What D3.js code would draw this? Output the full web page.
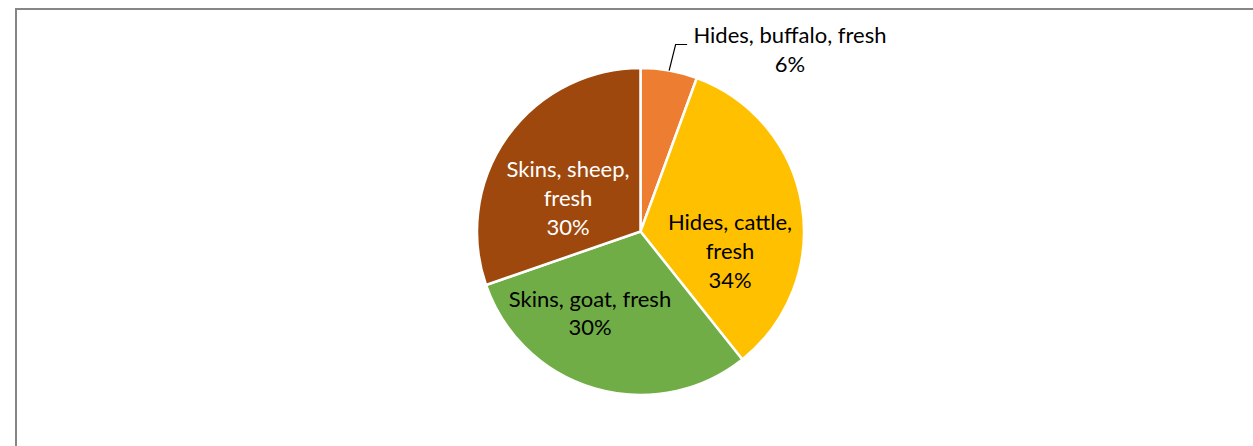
<!DOCTYPE html>
<html>
<head>
<meta charset="utf-8">
<script src="https://cdn.jsdelivr.net/npm/d3@7/dist/d3.min.js"></script>
<style>
  html, body { margin: 0; padding: 0; background: #fff; }
  svg { display: block; }
  text { font-family: Lato, "Liberation Sans", sans-serif; }
</style>
</head>
<body>
<svg id="chart" width="1253" height="446"></svg>
<script>
// Share of fresh hides and skins
const categories = ["Hides, buffalo, fresh", "Hides, cattle, fresh", "Skins, goat, fresh", "Skins, sheep, fresh"];
const shares = [5.6, 33.7, 30.4, 30.3];
const labelLines = [
  ["Hides, buffalo, fresh"],
  ["Hides, cattle,", "fresh"],
  ["Skins, goat, fresh"],
  ["Skins, sheep,", "fresh"]
];
const colors = ["#ED7D31", "#FFC000", "#70AD47", "#9E480E"];
const textColors = ["#000", "#000", "#000", "#fff"];

const W = 1253, H = 446;
const cx = 640.5, cy = 231.5, radius = 163.5;
const fontSize = 22, lineH = 28.7;

const svg = d3.select("#chart");

// chart frame
svg.append("rect")
  .attr("x", 16).attr("y", 9)
  .attr("width", W + 20).attr("height", H + 20)
  .attr("fill", "#fff")
  .attr("stroke", "#868686")
  .attr("stroke-width", 2);

const pie = d3.pie().sort(null).value(d => d);
const arcs = pie(shares);
const arc = d3.arc().innerRadius(0).outerRadius(radius);

const g = svg.append("g").attr("transform", `translate(${cx},${cy})`);

g.selectAll("path.slice")
  .data(arcs)
  .join("path")
  .attr("class", "slice")
  .attr("d", arc)
  .attr("fill", (d, i) => colors[i])
  .attr("stroke", "#fff")
  .attr("stroke-width", 2.5)
  .attr("stroke-linejoin", "round");

// label placement: polar position (degrees clockwise from 12 o'clock, distance from centre) of each label block's centre
const labelPolar = [null, [102.3, 91.6], [-148.2, 95.9], [-65.2, 79.9]];

arcs.forEach((d, i) => {
  const pct = Math.round(d.value) + "%";
  const lines = labelLines[i].concat([pct]);
  let x, y0;
  if (i === 0) {
    // outside label with leader line
    const a = (d.startAngle + d.endAngle) / 2;
    const p = [Math.sin(a) * radius, -Math.cos(a) * radius];
    const elbow = [p[0] + 6.5, p[1] - 26];
    g.append("path")
      .attr("d", d3.line()([p, elbow, [elbow[0] + 11.5, elbow[1]]]))
      .attr("fill", "none")
      .attr("stroke", "#000")
      .attr("stroke-width", 1.2);
    x = 790 - cx;
    y0 = 43 - cy;
  } else {
    const [deg, r] = labelPolar[i];
    const a = deg * Math.PI / 180;
    x = Math.sin(a) * r;
    const yc = -Math.cos(a) * r;
    y0 = yc - (lines.length - 1) * lineH / 2 + fontSize * 0.36;
  }
  const t = g.append("text")
    .attr("text-anchor", "middle")
    .attr("font-size", fontSize)
    .attr("fill", textColors[i]);
  lines.forEach((ln, k) => {
    t.append("tspan")
      .attr("x", x)
      .attr("y", y0 + k * lineH)
      .text(ln);
  });
});
</script>
</body>
</html>
